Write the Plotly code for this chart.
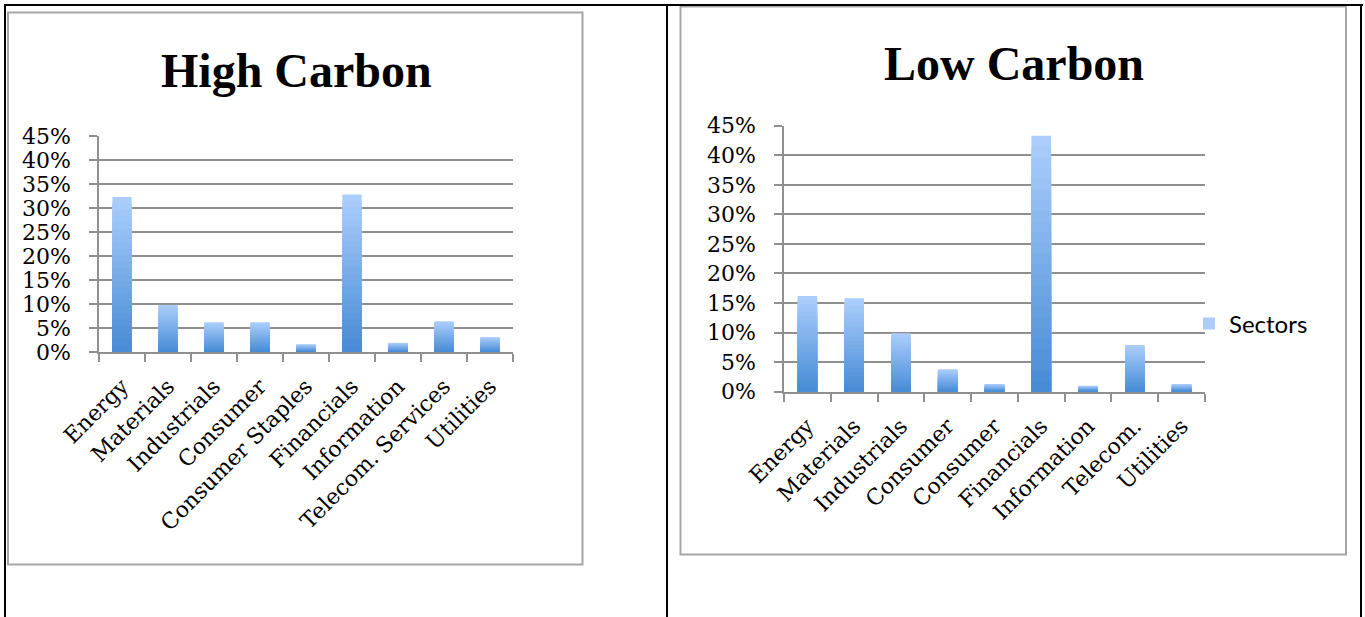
import plotly.graph_objects as go

# ---------------- data ----------------
high_categories = ["Energy", "Materials", "Industrials", "Consumer", "Consumer Staples",
                   "Financials", "Information", "Telecom. Services", "Utilities"]
high_values = [0.323, 0.098, 0.062, 0.062, 0.016, 0.328, 0.019, 0.064, 0.031]

low_categories = ["Energy", "Materials", "Industrials", "Consumer", "Consumer",
                  "Financials", "Information", "Telecom.", "Utilities"]
low_values = [0.162, 0.158, 0.099, 0.038, 0.013, 0.433, 0.010, 0.079, 0.013]

y_ticks = [0.00, 0.05, 0.10, 0.15, 0.20, 0.25, 0.30, 0.35, 0.40, 0.45]
series_name = "Sectors"
titles = ["High Carbon", "Low Carbon"]

# ---------------- helpers ----------------
W, H = 1365, 617


def fx(p):
    return p / W


def fy(p):
    return 1 - p / H


LIGHT = (170, 205, 251)
DARK = (72, 140, 214)
N_STEPS = 24


def lerp(c1, c2, t):
    return "rgb(%d,%d,%d)" % tuple(round(a + (b - a) * t) for a, b in zip(c1, c2))


GRID = "#8f8f8f"
SERIF = "DejaVu Serif"

fig = go.Figure()


def add_chart(cats, vals, xa, ya, legend):
    xs = list(range(len(cats)))
    for k in range(N_STEPS):
        s = 1 - k / N_STEPS
        fig.add_trace(go.Bar(
            x=xs, y=[v * s for v in vals], width=0.42,
            marker=dict(color=lerp(LIGHT, DARK, k / (N_STEPS - 1)), line=dict(width=0)),
            xaxis=xa, yaxis=ya, name=series_name,
            showlegend=(legend and k == 0),
            hoverinfo="y" if k == 0 else "skip",
        ))


add_chart(high_categories, high_values, "x", "y", False)
add_chart(low_categories, low_values, "x2", "y2", True)


def xaxis_cfg(cats, domain, anchor):
    return dict(
        domain=domain, range=[-0.5, len(cats) - 0.5], anchor=anchor,
        tickmode="array", tickvals=list(range(len(cats))), ticktext=cats,
        tickangle=-45, ticks="", showgrid=False, zeroline=False,
        showline=True, linecolor=GRID, linewidth=1.6,
        tickfont=dict(family=SERIF, size=22, color="black"),
        ticklabelstandoff=11,
        minor=dict(tickmode="linear", tick0=-0.5, dtick=1, ticks="outside",
                   ticklen=8, tickcolor=GRID, tickwidth=1.6, showgrid=False),
        automargin=False, fixedrange=True,
    )


def yaxis_cfg(domain, anchor):
    return dict(
        domain=domain, range=[0, 0.45], anchor=anchor,
        tickmode="array", tickvals=y_ticks, tickformat=".0%",
        showgrid=True, gridcolor=GRID, gridwidth=1.6,
        ticks="outside", ticklen=8, tickcolor=GRID, tickwidth=1.6,
        showline=True, linecolor=GRID, linewidth=1.6, zeroline=False,
        tickfont=dict(family=SERIF, size=22, color="black"),
        ticklabelstandoff=14,
        automargin=False, fixedrange=True,
    )


shapes = []
# document table borders
for (x0, y0, x1, y1) in [(4, 5, 1363, 5), (5, 4, 5, 617), (667, 4, 667, 617), (1361, 4, 1361, 617)]:
    shapes.append(dict(type="line", xref="paper", yref="paper",
                       x0=fx(x0), y0=fy(y0), x1=fx(x1), y1=fy(y1),
                       line=dict(color="black", width=2)))
# chart boxes
for (x0, y0, x1, y1) in [(8, 12.5, 582.5, 564.5), (680.5, 6.5, 1346, 554.5)]:
    shapes.append(dict(type="rect", xref="paper", yref="paper",
                       x0=fx(x0), y0=fy(y0), x1=fx(x1), y1=fy(y1),
                       line=dict(color="#a6a6a6", width=2), layer="below"))

annotations = [
    dict(text="<b>%s</b>" % titles[0], x=fx(296), y=fy(71), xref="paper", yref="paper",
         xanchor="center", yanchor="middle", showarrow=False,
         font=dict(family="Liberation Serif", size=48, color="black")),
    dict(text="<b>%s</b>" % titles[1], x=fx(1014), y=fy(63), xref="paper", yref="paper",
         xanchor="center", yanchor="middle", showarrow=False,
         font=dict(family="Liberation Serif", size=48, color="black")),
]

fig.update_layout(
    width=W, height=H, autosize=False,
    margin=dict(l=0, r=0, t=0, b=0, pad=0, autoexpand=False),
    paper_bgcolor="white", plot_bgcolor="white",
    barmode="overlay",
    xaxis=xaxis_cfg(high_categories, [fx(99), fx(513)], "y"),
    yaxis=yaxis_cfg([fy(352), fy(136)], "x"),
    xaxis2=xaxis_cfg(low_categories, [fx(784), fx(1205)], "y2"),
    yaxis2=yaxis_cfg([fy(391.7), fy(125.7)], "x2"),
    legend=dict(x=fx(1189), y=fy(324), xanchor="left", yanchor="middle",
                bgcolor="rgba(0,0,0,0)", font=dict(family="Lato", size=24, color="black")),
    shapes=shapes, annotations=annotations,
)

fig.write_html("out.html", config={"displayModeBar": False})
